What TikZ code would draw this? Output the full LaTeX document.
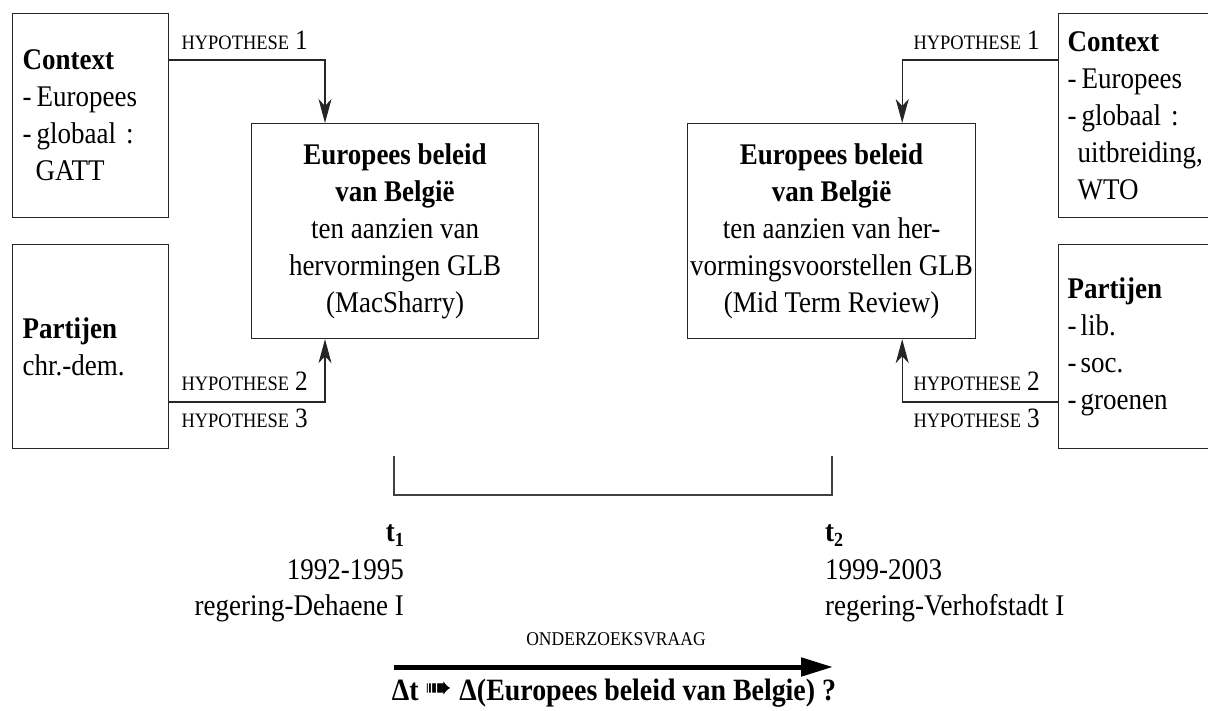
\documentclass[tikz,border=0pt]{standalone}
\usepackage{fontspec}
\setmainfont{Liberation Serif}[FakeStretch=0.9]
\newfontfamily\dingfont{DejaVu Sans}
\usetikzlibrary{arrows.meta,calc}
\newcommand{\hypl}[1]{{\fontsize{20.5}{20}\selectfont HYPOTHESE}\hspace{6pt}{\fontsize{28}{28}\selectfont #1}}
\newcommand{\tsub}[2]{\textbf{#1}\raisebox{-5pt}{\fontsize{20}{20}\selectfont\bfseries #2}}
\begin{document}
\begin{tikzpicture}[x=1pt,y=-1pt,
  box/.style={draw=black!85,line width=1.2pt,inner sep=0pt,anchor=north west},
  sidebox/.style={box,align=left,inner xsep=10pt,minimum height=204pt,font=\fontsize{30}{37}\selectfont},
  mainbox/.style={box,align=center,minimum height=215pt,font=\fontsize{30}{37}\selectfont},
  conn/.style={draw=black!85,line width=1.1pt,-{Stealth[length=24pt,width=13pt,inset=7pt]}},
  lab/.style={inner sep=0pt},
  txt/.style={inner sep=0pt,font=\fontsize{30}{37}\selectfont},
]
\useasboundingbox (0,0) rectangle (1208,711);
\clip (0,0) rectangle (1208,711);

% side boxes
\node[sidebox,text width=136pt] (ctxL) at (12,13)
  {\textbf{Context}\\-\,Europees\\-\,globaal :\\\hspace*{13pt}GATT};
\node[sidebox,text width=136pt] (ptyL) at (12,244)
  {\textbf{Partijen}\\chr.-dem.};
\node[sidebox,text width=152pt,inner xsep=9pt] (ctxR) at (1058,13)
  {\textbf{Context}\\-\,Europees\\-\,globaal :\\\hspace*{10pt}uitbreiding,\\\hspace*{10pt}WTO};
\node[sidebox,text width=152pt,inner xsep=9pt] (ptyR) at (1058,244)
  {\textbf{Partijen}\\-\hspace{4pt}lib.\\-\hspace{4pt}soc.\\-\hspace{4pt}groenen};

% main boxes
\node[mainbox,minimum width=287pt] (mainL) at (251,123)
  {\textbf{Europees beleid}\\\textbf{van België}\\ten aanzien van\\hervormingen GLB\\(MacSharry)};
\node[mainbox,minimum width=288pt] (mainR) at (687,123)
  {\textbf{Europees beleid}\\\textbf{van België}\\ten aanzien van her-\\vormingsvoorstellen GLB\\(Mid Term Review)};

% connectors
\draw[conn] ($(ctxL.north east)+(0,47)$) -| ($(mainL.north west)+(74,0)$);
\draw[conn] ($(ptyL.north east)+(0,158)$) -| ($(mainL.south west)+(74,0)$);
\draw[conn] ($(ctxR.north west)+(0,47)$) -| ($(mainR.north east)+(-74,0)$);
\draw[conn] ($(ptyR.north west)+(0,158)$) -| ($(mainR.south east)+(-74,0)$);

% hypothesis labels
\node[lab,anchor=base east] (h1L) at (308,50) {\hypl{1}};
\node[lab,anchor=base east] (h2L) at (308,390) {\hypl{2}};
\node[lab,anchor=base east] (h3L) at (308,428) {\hypl{3}};
\node[lab,anchor=base east] (h1R) at (1040,50) {\hypl{1}};
\node[lab,anchor=base east] (h2R) at (1040,390) {\hypl{2}};
\node[lab,anchor=base east] (h3R) at (1040,428) {\hypl{3}};

% bracket
\coordinate (bA) at (394,456);
\coordinate (bB) at (832,456);
\draw[draw=black!75,line width=1.2pt] (bA) -- ++(0,39) -| (bB);

% time labels
\node[txt,anchor=base east] (t1) at (404,541) {\tsub{t}{1}};
\node[txt,anchor=base east] (y1) at (404,579) {1992-1995};
\node[txt,anchor=base east] (r1) at (404,615) {regering-Dehaene I};
\node[txt,anchor=base west] (t2) at (825,541) {\tsub{t}{2}};
\node[txt,anchor=base west] (y2) at (825,579) {1999-2003};
\node[txt,anchor=base west] (r2) at (825,615) {regering-Verhofstadt I};

% research question
\node[lab,anchor=base] (oq) at (616,645) {\fontsize{19.5}{19}\selectfont ONDERZOEKSVRAAG};
\coordinate (qa) at (394,667);
\coordinate (qb) at (833,667);
\draw[line width=5pt,-{Triangle[length=32pt,width=18pt]}] (qa) -- (qb);
\node[lab,anchor=base] (delta) at (614,700)
  {\fontsize{31}{31}\selectfont\bfseries Δt {\dingfont\fontsize{32}{32}\selectfont\raisebox{2pt}{➠}} Δ(Europees beleid van Belgie) ?};
\end{tikzpicture}
\end{document}
